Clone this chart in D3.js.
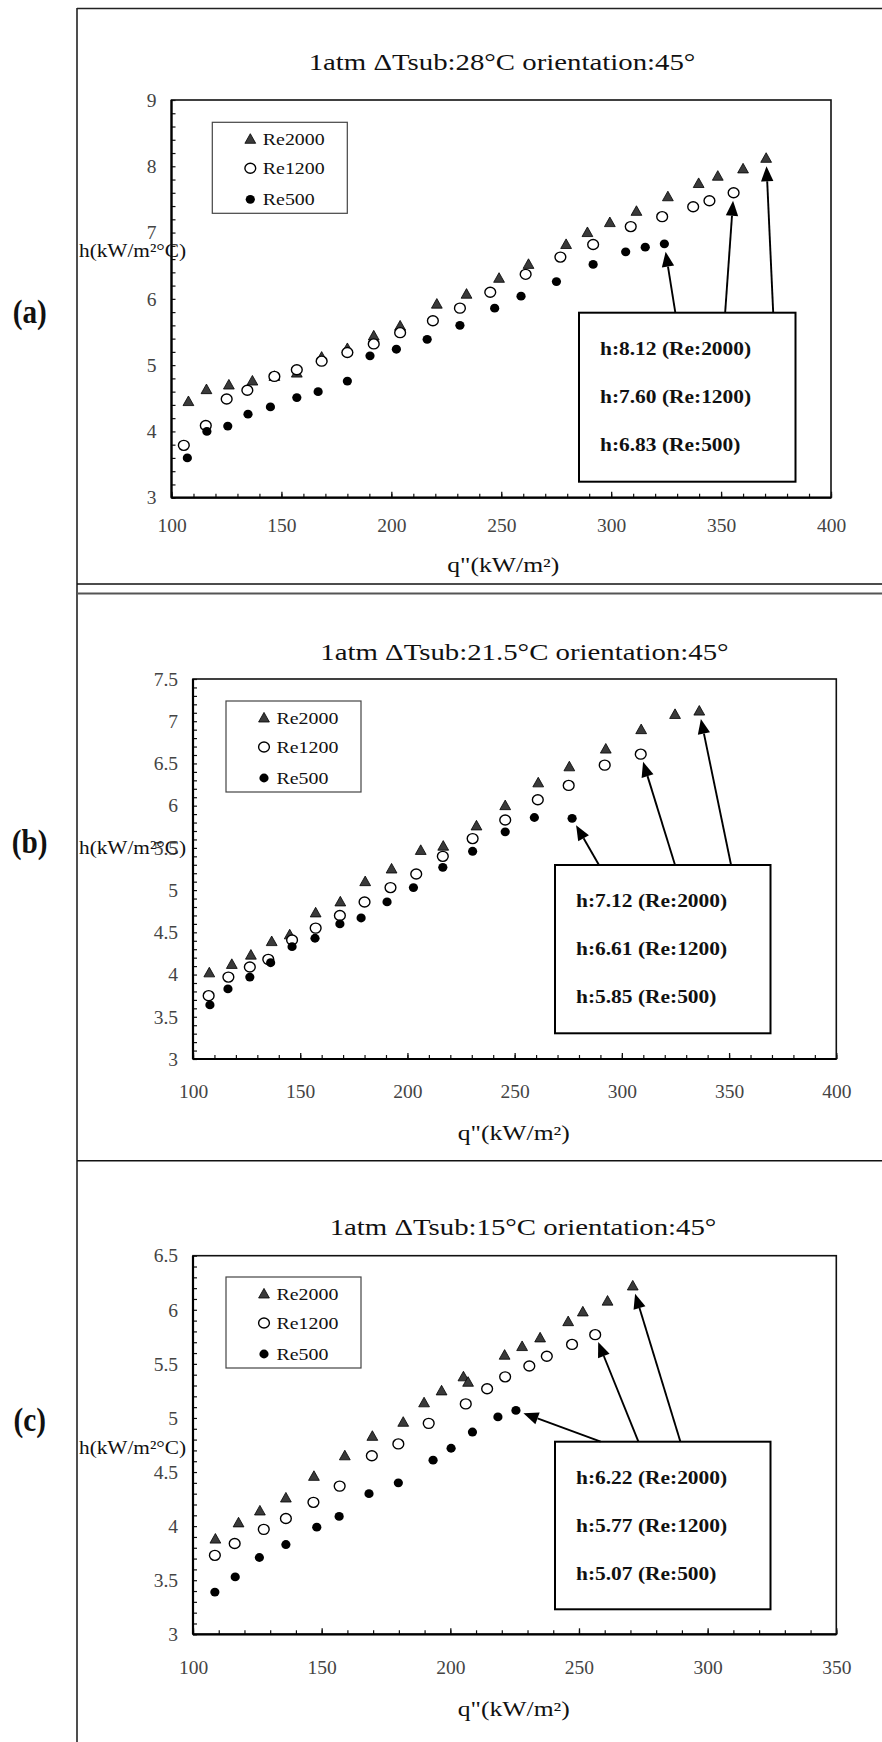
<!DOCTYPE html>
<html>
<head>
<meta charset="utf-8">
<script src="https://cdn.jsdelivr.net/npm/d3@7"></script>
<style>
  html, body { margin: 0; padding: 0; background: #fff; }
  svg { display: block; }
</style>
</head>
<body>
<svg id="fig" width="882" height="1742"></svg>
<script>
// ---------- data: heat flux q" (kW/m²) vs heat transfer coefficient h (kW/m²°C) ----------
// (a) ΔTsub 28°C
const qA2000 = [107.7,115.9,126.1,136.8,146.8,157,168.3,180,192,204,220.7,234.2,249,262.4,279.5,289.2,299.4,311.5,325.8,339.8,348.5,360,370.5];
const hA2000 = [4.45,4.63,4.70,4.76,4.83,4.88,5.12,5.25,5.44,5.59,5.92,6.07,6.31,6.52,6.82,7.00,7.15,7.32,7.54,7.74,7.85,7.96,8.12];
const qA1200 = [105.6,115.6,125.1,134.5,146.8,157,168.3,180,192,204,218.9,231.2,245,261.1,276.9,291.8,308.9,323.2,337.3,344.7,355.7];
const hA1200 = [3.79,4.09,4.49,4.62,4.83,4.93,5.06,5.19,5.32,5.49,5.67,5.86,6.10,6.37,6.63,6.82,7.09,7.24,7.39,7.48,7.60];
const qA500  = [107.2,116.1,125.6,134.8,145,157,166.7,180,190.3,202.3,216.3,231.2,247,259,275.1,291.8,306.6,315.5,324.2];
const hA500  = [3.60,4.00,4.08,4.26,4.37,4.51,4.60,4.76,5.14,5.24,5.39,5.60,5.86,6.04,6.26,6.52,6.71,6.78,6.83];

// (b) ΔTsub 21.5°C
const qB2000 = [107.6,118.1,127,136.7,145.1,157.2,168.7,180.3,192.6,206.2,216.7,232.2,245.6,261,275.5,292.5,309,324.8,336.1];
const hB2000 = [4.02,4.12,4.23,4.39,4.47,4.73,4.86,5.10,5.25,5.47,5.52,5.76,6.00,6.27,6.46,6.67,6.90,7.08,7.12];
const qB1200 = [107.3,116.5,126.5,135.1,146.2,157.2,168.5,180,192.1,204.1,216.5,230.4,245.6,260.8,275.2,292,308.8];
const hB1200 = [3.75,3.97,4.09,4.18,4.41,4.55,4.70,4.86,5.03,5.19,5.40,5.61,5.83,6.07,6.24,6.48,6.61];
const qB500  = [107.9,116.3,126.5,136.2,146.2,156.9,168.5,178.4,190.5,202.8,216.5,230.4,245.6,259.2,276.8];
const hB500  = [3.64,3.83,3.97,4.14,4.33,4.43,4.60,4.67,4.86,5.03,5.27,5.46,5.69,5.86,5.85];

// (c) ΔTsub 15°C
const qC2000 = [108.7,117.7,126,136.1,147,159,169.7,181.7,189.8,196.6,205.1,206.9,221.1,227.9,234.9,245.8,251.5,261.1,270.9];
const hC2000 = [3.88,4.03,4.14,4.26,4.46,4.65,4.83,4.96,5.14,5.25,5.38,5.33,5.58,5.66,5.74,5.89,5.98,6.08,6.22];
const qC1200 = [108.5,116.2,127.5,136.1,146.8,157,169.5,179.8,191.6,206,214.3,221.3,230.7,237.5,247.3,256.3];
const hC1200 = [3.73,3.84,3.97,4.07,4.22,4.37,4.65,4.76,4.95,5.13,5.27,5.38,5.48,5.57,5.68,5.77];
const qC500  = [108.5,116.4,125.8,136.1,148.1,156.8,168.4,179.8,193.3,200.3,208.6,218.5,225.5];
const hC500  = [3.39,3.53,3.71,3.83,3.99,4.09,4.30,4.40,4.61,4.72,4.87,5.01,5.07];

// series / legend
const reynolds    = [2000, 1200, 500];
const seriesNames = ["Re2000", "Re1200", "Re500"];

// axis ticks
const xTicksAB = [100, 150, 200, 250, 300, 350, 400];
const xTicksC  = [100, 150, 200, 250, 300, 350];
const yTicksA  = [3, 4, 5, 6, 7, 8, 9];
const yTicksB  = [3, 3.5, 4, 4.5, 5, 5.5, 6, 6.5, 7, 7.5];
const yTicksC  = [3, 3.5, 4, 4.5, 5, 5.5, 6, 6.5];

// panel titles and tags
const titles   = ["1atm \u0394Tsub:28°C orientation:45°",
                  "1atm \u0394Tsub:21.5°C orientation:45°",
                  "1atm \u0394Tsub:15°C orientation:45°"];
const tags     = ["(a)", "(b)", "(c)"];
const xTitle   = "q\"(kW/m²)";
const yTitle   = "h(kW/m²°C)";

// ---------- layout for each panel ----------
const panels = [
  { q: [qA2000, qA1200, qA500], h: [hA2000, hA1200, hA500],
    xTicks: xTicksAB, yTicks: yTicksA, yMinor: 0.2,
    plot: { x0: 171.5, x1: 831, y0: 100, y1: 497.7 },
    legend: { x: 212.3, y: 122.3 },
    box: { x: 579, y: 312.7, w: 216.5, h: 169 },
    arrowFrac: [0.897, 0.675, 0.445],
    titleCx: 502, titleBase: 70, xLabelBase: 34, xTitleCx: 503.3, xTitleBase: 572,
    yTitleBase: 257, tagBase: 323 },
  { q: [qB2000, qB1200, qB500], h: [hB2000, hB1200, hB500],
    xTicks: xTicksAB, yTicks: yTicksB, yMinor: 0.1,
    plot: { x0: 193, x1: 836.3, y0: 679, y1: 1059 },
    legend: { x: 226, y: 701 },
    box: { x: 555, y: 865, w: 215.5, h: 168.3 },
    arrowFrac: [0.817, 0.557, 0.204],
    titleCx: 524.5, titleBase: 660, xLabelBase: 39, xTitleCx: 513.8, xTitleBase: 1140,
    yTitleBase: 854, tagBase: 853 },
  { q: [qC2000, qC1200, qC500], h: [hC2000, hC1200, hC500],
    xTicks: xTicksC, yTicks: yTicksC, yMinor: 0.1,
    plot: { x0: 193, x1: 836.3, y0: 1255.7, y1: 1634.3 },
    legend: { x: 226, y: 1277 },
    box: { x: 555, y: 1441.7, w: 215.5, h: 167.6 },
    arrowFrac: [0.582, 0.387, 0.212],
    titleCx: 523, titleBase: 1235, xLabelBase: 40, xTitleCx: 513.8, xTitleBase: 1716,
    yTitleBase: 1454, tagBase: 1431 }
];

const svg = d3.select("#fig");
const FONT = '"Liberation Serif", "Times New Roman", Times, serif';

// text whose width is stretched by factor k relative to its natural width
function stretchedText(parent, str, x, y, size, k, anchor, weight, fill) {
  const t = parent.append("text")
    .attr("x", x).attr("y", y)
    .style("font-family", FONT)
    .style("font-size", size + "px")
    .style("font-weight", weight || "normal")
    .attr("fill", fill || "#111")
    .text(str);
  const w = t.node().getComputedTextLength() * k;
  t.attr("textLength", w).attr("lengthAdjust", "spacingAndGlyphs");
  if (anchor === "middle") t.attr("x", x - w / 2);
  else if (anchor === "end") t.attr("x", x - w);
  return t;
}

// marker shapes
function drawMarker(g, kind, cx, cy) {
  if (kind === 0) {
    g.append("path")
      .attr("d", `M${cx},${cy - 5.6}L${cx + 5.4},${cy + 4}L${cx - 5.4},${cy + 4}Z`)
      .attr("fill", "#3a3a3a").attr("stroke", "#000").attr("stroke-width", 0.8);
  } else if (kind === 1) {
    g.append("ellipse").attr("cx", cx).attr("cy", cy).attr("rx", 5.4).attr("ry", 5)
      .attr("fill", "#fff").attr("stroke", "#000").attr("stroke-width", 1.4);
  } else {
    g.append("ellipse").attr("cx", cx).attr("cy", cy).attr("rx", 4.6).attr("ry", 4.4)
      .attr("fill", "#000");
  }
}

// ---------- outer frame ----------
svg.append("line").attr("x1", 77).attr("x2", 77).attr("y1", 8).attr("y2", 1742)
  .attr("stroke", "#222").attr("stroke-width", 1.6);
[[8.5, "#222", 1.5], [584, "#111", 1.5], [593.5, "#555", 2.2], [1160.7, "#111", 1.5]]
  .forEach(([yy, c, w]) => {
    svg.append("line").attr("x1", 77).attr("x2", 882).attr("y1", yy).attr("y2", yy)
      .attr("stroke", c).attr("stroke-width", w);
  });

// ---------- panels ----------
panels.forEach((P, pi) => {
  const L = P.plot;
  const g = svg.append("g");
  const xMax = P.xTicks[P.xTicks.length - 1];
  const yMax = P.yTicks[P.yTicks.length - 1];
  const x = d3.scaleLinear().domain([100, xMax]).range([L.x0, L.x1]);
  const y = d3.scaleLinear().domain([3, yMax]).range([L.y1, L.y0]);

  // title
  stretchedText(g, titles[pi], P.titleCx, P.titleBase, 24, 1.2, "middle", "normal", "#111");

  // panel tag
  stretchedText(g, tags[pi], 29.7, P.tagBase, 34, 0.86, "middle", "bold", "#111");

  // plot frame (top and right borders)
  g.append("rect").attr("x", L.x0).attr("y", L.y0)
    .attr("width", L.x1 - L.x0).attr("height", L.y1 - L.y0)
    .attr("fill", "none").attr("stroke", "#111").attr("stroke-width", 1.6);

  // minor and major ticks pointing inward
  const xMinor = d3.range(100, xMax + 0.001, 10);
  const yMinorVals = d3.range(0, Math.round((yMax - 3) / P.yMinor) + 1).map(i => 3 + i * P.yMinor);

  const gxm = g.append("g").attr("transform", `translate(0,${L.y1})`)
    .call(d3.axisBottom(x).tickValues(xMinor).tickSize(-4).tickFormat(""));
  gxm.select(".domain").remove();
  gxm.selectAll("line").attr("stroke", "#111").attr("stroke-width", 1.2);

  const gym = g.append("g").attr("transform", `translate(${L.x0},0)`)
    .call(d3.axisLeft(y).tickValues(yMinorVals).tickSize(-4).tickFormat(""));
  gym.select(".domain").remove();
  gym.selectAll("line").attr("stroke", "#111").attr("stroke-width", 1.2);

  const gxM = g.append("g").attr("transform", `translate(0,${L.y1})`)
    .call(d3.axisBottom(x).tickValues(P.xTicks).tickSize(-6).tickFormat(""));
  gxM.select(".domain").remove();
  gxM.selectAll("line").attr("stroke", "#111").attr("stroke-width", 1.3);

  // tick labels
  const fs = 19.5;
  const gx = g.append("g").attr("transform", `translate(0,${L.y1})`)
    .call(d3.axisBottom(x).tickValues(P.xTicks).tickSize(0)
      .tickPadding(P.xLabelBase - 0.71 * fs).tickFormat(d3.format("d")));
  gx.select(".domain").remove();
  gx.selectAll("text").style("font-family", FONT).style("font-size", fs + "px").attr("fill", "#444");

  const gy = g.append("g").attr("transform", `translate(${L.x0},0)`)
    .call(d3.axisLeft(y).tickValues(P.yTicks).tickSize(0).tickPadding(15).tickFormat(d3.format("~g")));
  gy.select(".domain").remove();
  gy.selectAll("text").style("font-family", FONT).style("font-size", fs + "px").attr("fill", "#444");

  // axis lines (left and bottom, heavier)
  g.append("line").attr("x1", L.x0).attr("x2", L.x0).attr("y1", L.y0).attr("y2", L.y1)
    .attr("stroke", "#000").attr("stroke-width", 2.2);
  g.append("line").attr("x1", L.x0).attr("x2", L.x1).attr("y1", L.y1).attr("y2", L.y1)
    .attr("stroke", "#000").attr("stroke-width", 2.2);

  // axis titles
  stretchedText(g, xTitle, P.xTitleCx, P.xTitleBase, 20, 1.28, "middle", "normal", "#111");
  stretchedText(g, yTitle, 79, P.yTitleBase, 19, 1.12, "start", "normal", "#111");

  // legend
  const Lg = P.legend;
  g.append("rect").attr("x", Lg.x).attr("y", Lg.y).attr("width", 135).attr("height", 91)
    .attr("fill", "#fff").attr("stroke", "#444").attr("stroke-width", 1.2);
  const rowY = [17, 46, 77];
  seriesNames.forEach((name, si) => {
    drawMarker(g, si, Lg.x + 38, Lg.y + rowY[si]);
    stretchedText(g, name, Lg.x + 50.5, Lg.y + rowY[si] + 6, 17, 1.17, "start", "normal", "#111");
  });

  // data points: Re2000, then Re1200, then Re500 on top
  const pts = g.append("g");
  P.q.forEach((qs, si) => {
    qs.forEach((qv, i) => drawMarker(pts, si, x(qv), y(P.h[si][i])));
  });

  // annotation box with the last value of each series
  const B = P.box;
  g.append("rect").attr("x", B.x).attr("y", B.y).attr("width", B.w).attr("height", B.h)
    .attr("fill", "#fff").attr("stroke", "#000").attr("stroke-width", 2);
  const lineBase = [42, 90, 138];
  reynolds.forEach((re, si) => {
    const hs = P.h[si];
    const last = hs[hs.length - 1];
    stretchedText(g, `h:${last.toFixed(2)} (Re:${re})`, B.x + 21, B.y + lineBase[si],
      18, 1.19, "start", "bold", "#111");
  });

  // arrows from the box to the last point of each series
  reynolds.forEach((re, si) => {
    const qs = P.q[si], hs = P.h[si];
    const px = x(qs[qs.length - 1]), py = y(hs[hs.length - 1]);
    const sx = B.x + P.arrowFrac[si] * B.w, sy = B.y;
    const dx = sx - px, dy = sy - py, len = Math.hypot(dx, dy);
    const ux = dx / len, uy = dy / len;
    const tx = px + ux * 8, ty = py + uy * 8;       // arrow tip
    const hl = 15, hw = 6.2;                          // head length / half width
    const bx = tx + ux * hl, by = ty + uy * hl;       // head base centre
    g.append("line").attr("x1", sx).attr("y1", sy).attr("x2", bx).attr("y2", by)
      .attr("stroke", "#000").attr("stroke-width", 1.9);
    g.append("path")
      .attr("d", `M${tx},${ty}L${bx - uy * hw},${by + ux * hw}L${bx + uy * hw},${by - ux * hw}Z`)
      .attr("fill", "#000");
  });
});
</script>
</body>
</html>
